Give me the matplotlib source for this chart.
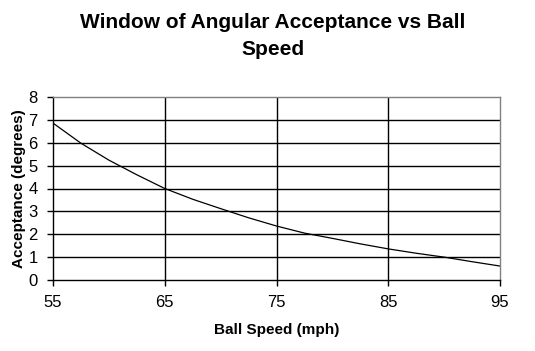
import matplotlib
matplotlib.use("Agg")
import matplotlib.pyplot as plt

plt.rcParams['font.family'] = ['Liberation Sans', 'DejaVu Sans']

speed = [55, 57.5, 60, 62.5, 65, 67.5, 70, 72.5, 75, 77.5, 80, 82.5, 85, 87.5, 90, 92.5, 95]
acceptance = [6.86, 5.98, 5.24, 4.6, 4.0, 3.53, 3.12, 2.72, 2.36, 2.05, 1.82, 1.58, 1.36, 1.17, 1.0, 0.8, 0.61]
xticks = [55, 65, 75, 85, 95]
yticks = [0, 1, 2, 3, 4, 5, 6, 7, 8]

fig = plt.figure(figsize=(5.35, 3.51), dpi=100)
ax = fig.add_axes([53/535, 71/351, 447/535, 183/351])

ax.plot(speed, acceptance, color='black', linewidth=0.9)

ax.set_xlim(55, 95)
ax.set_ylim(0, 8)
ax.set_xticks(xticks)
ax.set_yticks(yticks)
ax.set_xticklabels([str(v) for v in xticks])
ax.set_yticklabels([str(v) for v in yticks])

for y in yticks[1:-1]:
    ax.axhline(y, color='black', linewidth=1.0, zorder=1)
for x in xticks[1:-1]:
    ax.axvline(x, color='black', linewidth=1.0, zorder=1)

ax.spines['left'].set_color('black')
ax.spines['bottom'].set_color('black')
ax.spines['top'].set_color('#808080')
ax.spines['right'].set_color('#808080')
for s in ax.spines.values():
    s.set_linewidth(1.0)

ax.tick_params(axis='both', direction='out', length=4, width=1.0, colors='black', labelsize=12)
ax.tick_params(axis='x', pad=7)
ax.tick_params(axis='y', pad=7)

ax.set_xlabel('Ball Speed (mph)', fontsize=11, fontweight='bold', labelpad=9)
ax.set_ylabel('Acceptance (degrees)', fontsize=11, fontweight='bold', labelpad=2)

fig.text(273/535, 1 - 36/351, 'Window of Angular Acceptance vs Ball\nSpeed',
         ha='center', va='center', fontsize=15, fontweight='bold', linespacing=1.55)

fig.savefig('out.png', dpi=100)
